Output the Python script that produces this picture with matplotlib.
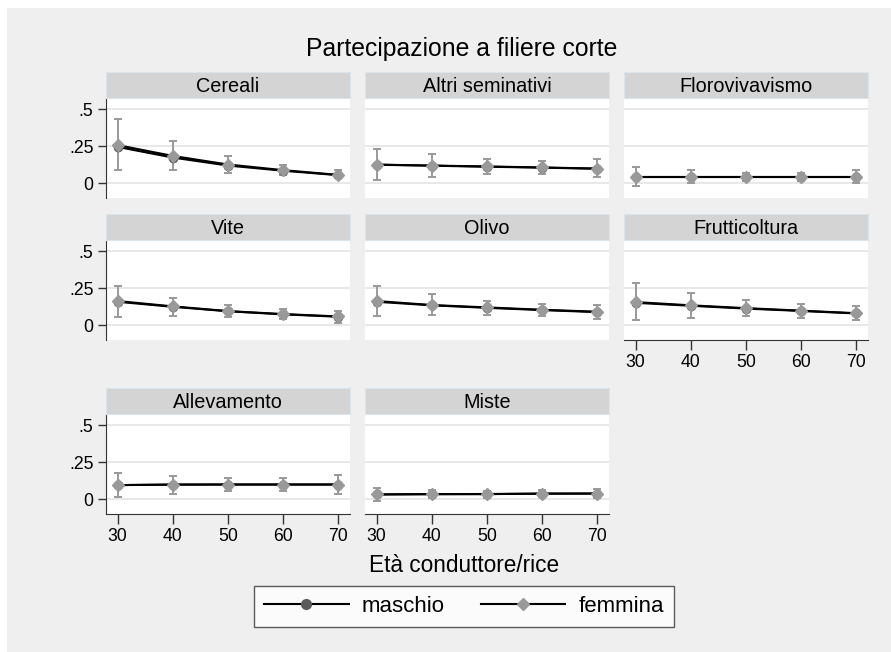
import matplotlib
matplotlib.use('Agg')
import matplotlib.pyplot as plt
from matplotlib.patches import Rectangle
from matplotlib.lines import Line2D

plt.rcParams['font.family'] = ['Liberation Sans', 'DejaVu Sans']

# dati
eta = [30, 40, 50, 60, 70]
settori = ['Cereali', 'Altri seminativi', 'Florovivavismo', 'Vite', 'Olivo',
           'Frutticoltura', 'Allevamento', 'Miste']

femmina_val = [
    [0.257, 0.184, 0.126, 0.088, 0.056],
    [0.124, 0.119, 0.113, 0.106, 0.099],
    [0.043, 0.043, 0.043, 0.043, 0.043],
    [0.163, 0.127, 0.095, 0.075, 0.059],
    [0.163, 0.136, 0.120, 0.104, 0.091],
    [0.156, 0.134, 0.115, 0.098, 0.081],
    [0.095, 0.099, 0.099, 0.099, 0.099],
    [0.032, 0.034, 0.034, 0.038, 0.038],
]
femmina_lo = [
    [0.088, 0.088, 0.072, 0.054, 0.032],
    [0.020, 0.043, 0.059, 0.059, 0.043],
    [-0.020, 0.000, 0.014, 0.014, 0.000],
    [0.054, 0.061, 0.054, 0.041, 0.014],
    [0.059, 0.070, 0.070, 0.064, 0.041],
    [0.032, 0.050, 0.059, 0.050, 0.036],
    [0.016, 0.036, 0.052, 0.054, 0.038],
    [-0.011, 0.005, 0.011, 0.016, 0.005],
]
femmina_hi = [
    [0.430, 0.286, 0.182, 0.124, 0.092],
    [0.230, 0.196, 0.164, 0.153, 0.160],
    [0.106, 0.088, 0.070, 0.070, 0.088],
    [0.264, 0.186, 0.138, 0.108, 0.098],
    [0.262, 0.208, 0.165, 0.145, 0.136],
    [0.285, 0.217, 0.172, 0.145, 0.129],
    [0.178, 0.155, 0.144, 0.142, 0.162],
    [0.076, 0.060, 0.054, 0.060, 0.072],
]
maschio_val = [
    [0.245, 0.173, 0.119, 0.084, 0.054],
    [0.126, 0.118, 0.111, 0.105, 0.097],
    [0.043, 0.043, 0.043, 0.043, 0.043],
    [0.158, 0.124, 0.094, 0.073, 0.057],
    [0.158, 0.134, 0.117, 0.102, 0.088],
    [0.151, 0.131, 0.112, 0.096, 0.079],
    [0.095, 0.098, 0.099, 0.099, 0.099],
    [0.032, 0.034, 0.035, 0.037, 0.038],
]

W, H = 891, 652
BG = '#efefef'
GRIGIO_F = '#999999'
GRIGIO_M = '#5a5a5a'

fig = plt.figure(figsize=(W / 100, H / 100), dpi=100, facecolor='white')
fig.patches.append(Rectangle((7 / W, 0), 1 - 7 / W, 1 - 8 / H,
                             transform=fig.transFigure, facecolor=BG,
                             edgecolor='none', zorder=-10))

col_left = [106, 365, 624]
row_top = [98, 240, 414]
pw, ph, sh = 244, 100, 26


def px_rect(x, y, w, h):
    return [x / W, 1 - (y + h) / H, w / W, h / H]


for i, nome in enumerate(settori):
    r, c = divmod(i, 3)
    x0, y0 = col_left[c], row_top[r]
    ax = fig.add_axes(px_rect(x0, y0, pw, ph))
    ax.set_facecolor('white')
    ax.set_xlim(27.9, 72.1)
    ax.set_ylim(-0.1, 0.575)
    for g in [0, 0.25, 0.5]:
        ax.axhline(g, color='#e4e4e4', lw=1.2, zorder=1)

    ax.errorbar(eta, femmina_val[i],
                yerr=[[v - lo for v, lo in zip(femmina_val[i], femmina_lo[i])],
                      [hi - v for v, hi in zip(femmina_val[i], femmina_hi[i])]],
                fmt='none', ecolor=GRIGIO_F, elinewidth=1.4, capsize=3,
                capthick=1.4, zorder=2)
    ax.plot(eta, maschio_val[i], color='black', lw=1.5, marker='o', ms=6,
            mfc=GRIGIO_M, mec=GRIGIO_M, zorder=3)
    ax.plot(eta, femmina_val[i], color='black', lw=1.5, zorder=3)
    ax.plot(eta, femmina_val[i], ls='none', marker='D', ms=6.3,
            mfc=GRIGIO_F, mec=GRIGIO_F, zorder=4)

    for s in ax.spines.values():
        s.set_visible(False)

    if c == 0:
        ax.spines['left'].set_visible(True)
        ax.spines['left'].set_color('#333333')
        ax.set_yticks([0, 0.25, 0.5])
        ax.set_yticklabels(['0', '.25', '.5'])
        ax.tick_params(axis='y', length=6, width=1, color='#333333',
                       labelsize=12.7, pad=3)
    else:
        ax.set_yticks([])

    if i >= 5:
        ax.spines['bottom'].set_visible(True)
        ax.spines['bottom'].set_color('#333333')
        ax.set_xticks(eta)
        ax.tick_params(axis='x', length=7, width=1, color='#333333',
                       labelsize=12.7, pad=3)
    else:
        ax.set_xticks([])

    # striscia del titolo
    sax = fig.add_axes(px_rect(x0, y0 - sh, pw, sh))
    sax.set_xticks([])
    sax.set_yticks([])
    sax.set_facecolor('#d4d4d4')
    for s in sax.spines.values():
        s.set_color('#dbe6ec')
        s.set_linewidth(0.8)
    sax.text(0.5, 0.45, nome, ha='center', va='center', fontsize=14.3,
             transform=sax.transAxes)

fig.text(462 / W, 1 - 56 / H, 'Partecipazione a filiere corte',
         ha='center', va='baseline', fontsize=17.8)
fig.text(464 / W, 1 - 572 / H, 'Età conduttore/rice',
         ha='center', va='baseline', fontsize=16.3)

handles = [
    Line2D([], [], color='black', lw=1.5, marker='o', ms=7,
           mfc=GRIGIO_M, mec=GRIGIO_M),
    Line2D([], [], color='black', lw=1.5, marker='D', ms=6.5,
           mfc=GRIGIO_F, mec=GRIGIO_F),
]
leg = fig.legend(handles, ['maschio', 'femmina'], loc='center',
                 bbox_to_anchor=(464 / W, 1 - 606 / H), ncol=2,
                 fontsize=16, handlelength=3.8, handletextpad=0.6,
                 columnspacing=1.6, frameon=True, fancybox=False,
                 borderpad=0.45, borderaxespad=0)
leg.get_frame().set_edgecolor('#333333')
leg.get_frame().set_linewidth(1.0)

fig.savefig('out.png', dpi=100, facecolor=fig.get_facecolor())
